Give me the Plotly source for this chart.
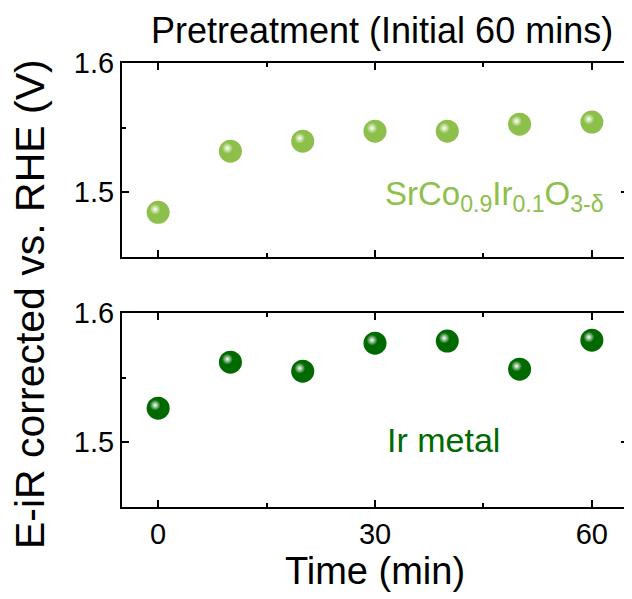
import plotly.graph_objects as go
from plotly.subplots import make_subplots

time_min = [0, 10, 20, 30, 40, 50, 60]
scio_potential = [1.4845, 1.5318, 1.5395, 1.5473, 1.5473, 1.5527, 1.5543]
ir_potential = [1.5264, 1.5620, 1.5550, 1.5767, 1.5783, 1.5566, 1.5790]
x_ticks = [0, 30, 60]
y_ticks = [1.5, 1.6]

LIGHT = "#8dc04a"
DARK = "#006a00"
FONT = "Liberation Sans, Arial, sans-serif"

X_RANGE = [-5, 65]
Y_RANGE = [1.45, 1.6]
PLOT_W = 508   # px of plot area width
PANEL_H = 194  # px of one panel height

fig = make_subplots(rows=2, cols=1, shared_xaxes=True)

# small highlight offset (upper-left) converted from pixels to data units
dx = -3 * (X_RANGE[1] - X_RANGE[0]) / PLOT_W
dy = 3 * (Y_RANGE[1] - Y_RANGE[0]) / PANEL_H

def add_spheres(ys, color, row):
    fig.add_trace(go.Scatter(x=time_min, y=ys, mode="markers",
                             marker=dict(size=23, color=color, line=dict(width=0)),
                             showlegend=False, hoverinfo="skip"), row=row, col=1)
    fig.add_trace(go.Scatter(x=[t + dx for t in time_min], y=[v + dy for v in ys], mode="markers",
                             marker=dict(size=11, color=color, line=dict(width=0),
                                         gradient=dict(type="radial", color="#ffffff")),
                             showlegend=False, hoverinfo="skip"), row=row, col=1)

add_spheres(scio_potential, LIGHT, 1)
add_spheres(ir_potential, DARK, 2)

axis_common = dict(showline=True, linecolor="black", linewidth=2, mirror="ticks",
                   ticks="inside", ticklen=7, tickwidth=2, tickcolor="black",
                   showgrid=False, zeroline=False,
                   tickfont=dict(family=FONT, size=29, color="black"))

xcommon = dict(axis_common, range=X_RANGE, tickvals=x_ticks,
               minor=dict(ticks="inside", ticklen=4, tickwidth=2, tickcolor="black", dtick=15, tick0=0))
ycommon = dict(axis_common, range=Y_RANGE, tickvals=y_ticks, tickformat=".1f",
               minor=dict(ticks="inside", ticklen=4, tickwidth=2, tickcolor="black", dtick=0.05, tick0=1.45))

fig.update_xaxes(xcommon)
fig.update_yaxes(ycommon)
fig.update_xaxes(showticklabels=False, row=1, col=1)
fig.update_xaxes(row=2, col=1, title=dict(text="Time (min)", font=dict(family=FONT, size=38, color="black"), standoff=4))

fig.update_layout(
    width=624, height=591,
    margin=dict(l=114, r=2, t=55, b=92),
    paper_bgcolor="white", plot_bgcolor="white",
    font=dict(family=FONT, color="black"),
    yaxis=dict(domain=[0.5631, 1.0]),
    yaxis2=dict(domain=[0.0, 0.4369]),
)

fig.add_annotation(text="Pretreatment (Initial 60 mins)", xref="paper", yref="paper",
                   x=0.5, xshift=7, y=1.0, yshift=33, xanchor="center", yanchor="middle", showarrow=False,
                   font=dict(family=FONT, size=36, color="black"))
fig.add_annotation(text="E-iR corrected vs. RHE (V)", xref="paper", yref="paper",
                   x=0, xshift=-92, y=0.457, xanchor="center", yanchor="middle",
                   textangle=-90, showarrow=False,
                   font=dict(family=FONT, size=41, color="black"))
fig.add_annotation(text="SrCo<sub>0.9</sub>Ir<sub>0.1</sub>O<sub>3-δ</sub>", xref="x", yref="y",
                   x=61.9, y=1.497, xanchor="right", yanchor="middle", showarrow=False,
                   font=dict(family=FONT, size=33, color=LIGHT))
fig.add_annotation(text="Ir metal", xref="x2", yref="y2",
                   x=39.5, y=1.5016, xanchor="center", yanchor="middle", showarrow=False,
                   font=dict(family=FONT, size=34, color=DARK))

fig.write_html("out.html")
